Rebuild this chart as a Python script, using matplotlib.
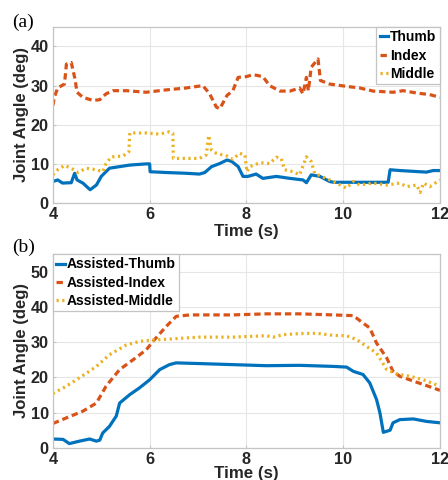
#!/usr/bin/env python
# Joint angles of thumb, index and middle finger: free motion (a) vs assisted (b)

import matplotlib
matplotlib.use('Agg')
import matplotlib.pyplot as plt

plt.rcParams['font.family'] = ['Liberation Sans', 'DejaVu Sans']
plt.rcParams['font.weight'] = 'bold'

# ---- panel (a): unassisted motion ----
t_thumb = [4.0, 4.1, 4.2, 4.38, 4.45, 4.5, 4.62, 4.77, 4.9, 5.0, 5.17, 5.38, 5.59, 5.93,
           6.0, 6.01, 6.34, 6.76, 7.03, 7.14, 7.28, 7.45, 7.6, 7.7, 7.83, 7.93, 8.03, 8.2,
           8.34, 8.62, 8.9, 9.17, 9.24, 9.34, 9.52, 9.72, 9.8, 10.93, 10.97, 11.17, 11.72,
           11.86, 12.0]
thumb = [5.5, 5.9, 5.1, 5.2, 7.6, 5.9, 5.1, 3.4, 4.6, 6.8, 8.9, 9.3, 9.7, 10.0,
         10.0, 8.0, 7.8, 7.6, 7.4, 7.8, 9.3, 10.1, 11.0, 10.6, 9.3, 6.8, 6.8, 7.4,
         6.3, 6.8, 6.3, 5.9, 5.2, 7.2, 6.8, 5.5, 5.3, 5.3, 8.5, 8.3, 7.9,
         8.3, 8.3]

t_index = [4.0, 4.03, 4.1, 4.24, 4.28, 4.38, 4.45, 4.5, 4.62, 4.83, 4.97, 5.1, 5.24, 5.52,
           5.93, 6.34, 6.76, 7.1, 7.24, 7.38, 7.45, 7.6, 7.72, 7.83, 8.0, 8.14, 8.34, 8.48,
           8.69, 8.9, 9.1, 9.17, 9.24, 9.28, 9.34, 9.48, 9.53, 9.72, 10.07, 10.34, 10.62,
           11.03, 11.24, 11.52, 11.79, 12.0]
index = [24.9, 27.0, 29.4, 30.4, 35.5, 35.9, 32.1, 28.3, 27.0, 26.2, 26.4, 27.9, 28.7, 28.7,
         28.3, 28.9, 29.4, 30.0, 27.9, 24.5, 24.1, 27.5, 28.7, 32.1, 32.3, 32.8, 32.3, 30.0,
         28.6, 28.6, 29.4, 27.9, 32.1, 28.7, 34.7, 36.8, 31.3, 30.4, 29.8, 29.4, 28.6,
         28.3, 28.7, 28.1, 27.7, 27.0]

t_middle = [4.0, 4.1, 4.24, 4.38, 4.52, 4.69, 4.9, 5.03, 5.1, 5.21, 5.45, 5.57, 5.59, 5.93,
            6.21, 6.41, 6.48, 6.49, 7.03, 7.17, 7.22, 7.28, 7.38, 7.6, 7.72, 7.86, 7.97,
            8.01, 8.07, 8.28, 8.48, 8.62, 8.72, 8.79, 8.97, 9.1, 9.24, 9.34, 9.41, 9.72,
            9.86, 10.07, 10.21, 10.34, 10.62, 10.9, 11.17, 11.31, 11.52, 11.59, 11.66,
            11.79, 12.0]
middle = [7.2, 8.5, 9.6, 8.9, 7.8, 8.9, 8.5, 8.0, 10.1, 11.8, 12.0, 13.1, 17.9, 17.9,
          17.6, 18.2, 17.8, 11.4, 11.4, 12.3, 17.3, 13.5, 12.7, 12.0, 11.2, 12.7, 12.3,
          8.0, 9.3, 10.3, 10.1, 11.7, 11.4, 8.5, 8.0, 7.2, 11.8, 10.6, 7.6, 5.9,
          5.1, 3.8, 5.5, 4.6, 5.1, 4.6, 5.1, 4.2, 4.6, 2.7, 5.1,
          4.2, 5.9]

# ---- panel (b): assisted motion ----
t_a_thumb = [4.0, 4.21, 4.34, 4.55, 4.76, 4.9, 4.97, 5.03, 5.17, 5.31, 5.38, 5.59, 5.79,
             6.0, 6.21, 6.41, 6.55, 7.03, 7.72, 8.41, 9.1, 9.79, 10.07, 10.21, 10.41,
             10.55, 10.69, 10.76, 10.83, 10.97, 11.03, 11.17, 11.45, 11.72, 12.0]
a_thumb = [2.5, 2.4, 1.2, 1.9, 2.5, 1.9, 2.2, 4.2, 6.1, 9.0, 12.7, 15.1, 17.0,
           19.3, 22.2, 23.6, 24.1, 23.9, 23.6, 23.3, 23.4, 23.1, 22.9, 21.7, 20.8,
           18.4, 13.7, 9.9, 4.4, 5.0, 7.1, 8.0, 8.2, 7.5, 7.1]

t_a_index = [4.0, 4.28, 4.62, 4.9, 5.1, 5.38, 5.66, 5.93, 6.07, 6.34, 6.55, 6.83, 7.72,
             8.41, 9.1, 9.79, 10.21, 10.41, 10.55, 10.69, 10.9, 11.03, 11.17, 11.52,
             11.86, 12.0]
a_index = [6.9, 8.5, 10.4, 12.7, 17.5, 22.2, 25.0, 27.8, 30.2, 34.4, 37.3, 37.7, 37.7,
           38.0, 38.0, 37.7, 37.5, 35.4, 34.0, 29.7, 25.5, 21.7, 20.3, 18.6,
           17.0, 16.3]

t_a_middle = [4.0, 4.28, 4.62, 4.9, 5.17, 5.52, 5.79, 6.0, 6.34, 7.03, 7.72, 8.41, 8.55,
              8.76, 9.1, 9.45, 9.79, 10.07, 10.28, 10.48, 10.69, 10.9, 11.1, 11.38,
              11.66, 12.0]
a_middle = [15.4, 17.5, 20.5, 23.1, 26.4, 29.2, 30.2, 30.5, 30.8, 31.4, 31.4, 31.8, 31.4,
            32.1, 32.4, 32.5, 31.9, 31.8, 30.7, 28.8, 26.9, 22.2, 21.0, 20.3,
            19.3, 17.5]

blue = '#0072BD'
orange = '#D95319'
yellow = '#EDB120'
lw = 2.3
dash = (0, (2.0, 1.2))
dot = (0, (0.7, 1.1))

fig = plt.figure(figsize=(4.48, 4.8), dpi=100)
ax1 = fig.add_axes([0.118, 0.577, 0.864, 0.367])
ax2 = fig.add_axes([0.118, 0.067, 0.864, 0.404])


def style_axes(ax, ymax, yticks):
	ax.set_xlim(4, 12)
	ax.set_ylim(0, ymax)
	ax.set_xticks([4, 6, 8, 10, 12])
	ax.set_yticks(yticks)
	ax.grid(True, color='#e6e6e6', linewidth=0.8)
	ax.set_axisbelow(True)
	for s in ax.spines.values():
		s.set_color('#c4c4c4')
		s.set_linewidth(0.9)
	ax.tick_params(direction='in', length=2, color='#c4c4c4', labelsize=11.7,
		labelcolor='#262626', pad=3)
	ax.set_ylabel('Joint Angle (deg)', fontsize=12, fontweight='bold', color='#262626',
		labelpad=1)


def style_legend(leg):
	leg.get_frame().set_edgecolor('#c4c4c4')
	leg.get_frame().set_linewidth(0.9)


ax1.plot(t_thumb, thumb, color=blue, lw=lw, label='Thumb')
ax1.plot(t_index, index, color=orange, lw=lw, linestyle=dash, label='Index')
ax1.plot(t_middle, middle, color=yellow, lw=lw, linestyle=dot, label='Middle')
style_axes(ax1, 45, [0, 10, 20, 30, 40])
ax1.set_xlabel('Time (s)', fontsize=12.2, fontweight='bold', color='#262626', labelpad=1)
style_legend(ax1.legend(loc='upper right', borderaxespad=0, fontsize=10, handlelength=0.6,
	handletextpad=0.15, labelspacing=0.3, borderpad=0.25, fancybox=False, framealpha=1))

ax2.plot(t_a_thumb, a_thumb, color=blue, lw=lw, label='Assisted-Thumb')
ax2.plot(t_a_index, a_index, color=orange, lw=lw, linestyle=dash, label='Assisted-Index')
ax2.plot(t_a_middle, a_middle, color=yellow, lw=lw, linestyle=dot, label='Assisted-Middle')
style_axes(ax2, 55, [0, 10, 20, 30, 40, 50])
ax2.set_xlabel('Time (s)', fontsize=12.2, fontweight='bold', color='#262626', labelpad=-1)
style_legend(ax2.legend(loc='upper left', borderaxespad=0, fontsize=10, handlelength=0.6,
	handletextpad=0.15, labelspacing=0.3, borderpad=0.25, fancybox=False, framealpha=1))

fig.text(0.028, 0.953, '(a)', family='Liberation Serif', fontsize=14, fontweight='normal',
	va='center', ha='left')
fig.text(0.028, 0.485, '(b)', family='Liberation Serif', fontsize=14, fontweight='normal',
	va='center', ha='left')

plt.savefig('out.png', dpi=100)
